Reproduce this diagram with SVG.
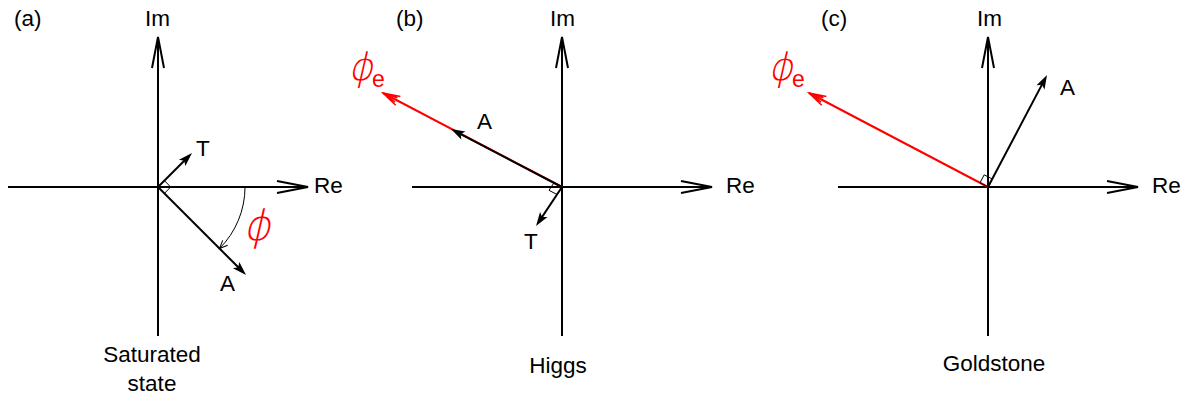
<svg xmlns="http://www.w3.org/2000/svg" width="1190" height="398" viewBox="0 0 1190 398">
<style>
.ax{stroke:#000;stroke-width:2;fill:none;marker-end:url(#axHead)}
.vec{stroke:#000;stroke-width:2;fill:none;marker-end:url(#fHead)}
.red{stroke:#f00;stroke-width:2;fill:none;marker-end:url(#rHead)}
.sq{stroke:#000;stroke-width:1;fill:none}
.arc{stroke:#000;stroke-width:1;fill:none;marker-end:url(#aHead)}
.t{font-family:"Liberation Sans",Arial,sans-serif;font-size:22.5px;fill:#000}
.c{text-anchor:middle}
.phi{font-family:"DejaVu Sans ExtraLight","DejaVu Sans",sans-serif;font-weight:200;fill:#f00}
.sub{font-family:"Liberation Sans",Arial,sans-serif;font-size:23px;fill:#f00}
</style>
<defs>
<marker id="axHead" markerUnits="userSpaceOnUse" viewBox="-33 -8 35 16" refX="0" refY="0" markerWidth="35" markerHeight="16" orient="auto">
<path d="M-31,-6 L0,0 L-31,6" fill="none" stroke="#000" stroke-width="2"/>
</marker>
<marker id="fHead" markerUnits="userSpaceOnUse" viewBox="-10 -6 18 12" refX="0" refY="0" markerWidth="18" markerHeight="12" orient="auto">
<path d="M5,0 L-9,-4.5 L-6,0 L-9,4.5 z" fill="#000"/>
</marker>
<marker id="rHead" markerUnits="userSpaceOnUse" viewBox="-20 -8 22 16" refX="0" refY="0" markerWidth="22" markerHeight="16" orient="auto">
<path d="M-17,-5 L0,0 L-17,5 M-15,-2.5 L0,0 L-15,2.5" fill="none" stroke="#f00" stroke-width="1.5"/>
</marker>
<marker id="aHead" markerUnits="userSpaceOnUse" viewBox="-10 -5 12 10" refX="0" refY="0" markerWidth="12" markerHeight="10" orient="auto">
<path d="M-8,-3.5 L0,0 L-8,3.5" fill="none" stroke="#000" stroke-width="1"/>
</marker>
</defs>

<g id="connectors">
<line class="ax" x1="8" y1="187" x2="308" y2="187"/>
<line class="ax" x1="158" y1="336" x2="158" y2="37"/>
<line class="vec" x1="158" y1="187" x2="188.5" y2="156.5"/>
<line class="vec" x1="158" y1="187" x2="242.5" y2="271.5"/>
<path class="sq" d="M158,187 L164.4,180.6 L170.7,187 L164.4,193.4 Z"/>
<path class="arc" d="M245,187 A87,87 0 0 1 219.5,248.5"/>
<line class="ax" x1="412" y1="187" x2="712" y2="187"/>
<line class="ax" x1="562" y1="336" x2="562" y2="37"/>
<line class="red" x1="562" y1="187" x2="383" y2="93"/>
<line class="vec" x1="562" y1="187" x2="455.4" y2="131.3"/>
<line class="vec" x1="562" y1="187" x2="538.8" y2="221.9"/>
<path class="sq" d="M562,187 L554,182.8 L549,190.3 L557,194.5 Z"/>
<line class="ax" x1="838" y1="187" x2="1138" y2="187"/>
<line class="ax" x1="988" y1="336" x2="988" y2="37"/>
<line class="red" x1="988" y1="187" x2="809" y2="93"/>
<line class="vec" x1="988" y1="187" x2="1044.7" y2="79.4"/>
<path class="sq" d="M988,187 L980,182.8 L984.2,174.8 L992.2,179 Z"/>
</g>

<g id="panel-a">
<text class="t" x="14" y="26">(a)</text>
<text class="t" x="145" y="26">Im</text>
<text class="t" x="314" y="193">Re</text>
<text class="t" x="196" y="156">T</text>
<text class="t" x="220" y="291">A</text>
<text class="phi" transform="translate(243,240) skewX(-13)" font-size="42">ϕ</text>
<text class="t c" x="152" y="362">Saturated</text>
<text class="t c" x="152" y="391">state</text>
</g>

<g id="panel-b">
<text class="t" x="396" y="26">(b)</text>
<text class="t" x="550" y="26">Im</text>
<text class="t" x="726" y="193">Re</text>
<text class="t" x="477" y="129">A</text>
<text class="t" x="524" y="249">T</text>
<text class="phi" transform="translate(348,80) skewX(-13)" font-size="38">ϕ</text>
<text class="sub" x="372" y="87">e</text>
<text class="t c" x="558" y="373">Higgs</text>
</g>

<g id="panel-c">
<text class="t" x="821" y="26">(c)</text>
<text class="t" x="977" y="26">Im</text>
<text class="t" x="1152" y="193">Re</text>
<text class="t" x="1060" y="95">A</text>
<text class="phi" transform="translate(768,80) skewX(-13)" font-size="38">ϕ</text>
<text class="sub" x="792" y="87">e</text>
<text class="t c" x="994" y="371">Goldstone</text>
</g>
</svg>
